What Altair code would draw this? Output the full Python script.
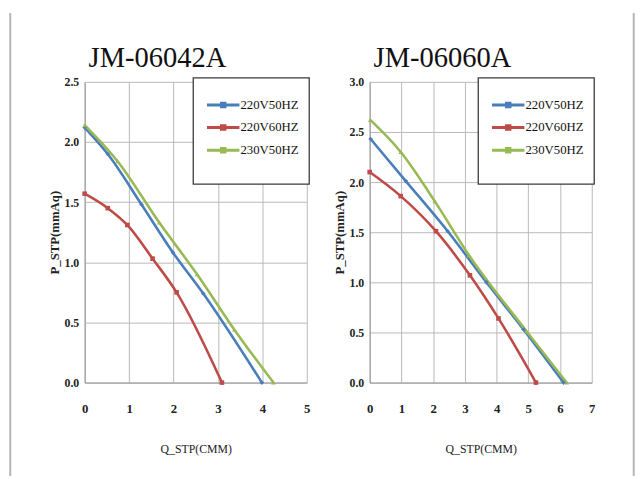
import altair as alt
import pandas as pd

SERIES = ["220V50HZ", "220V60HZ", "230V50HZ"]
COLORS = ["#4a7ebb", "#be4b48", "#98b954"]
SHAPES = ["diamond", "square", "triangle-up"]

# JM-06042A
a_q_220_50 = [0.0, 0.52, 1.28, 1.99, 2.67, 3.99]
a_p_220_50 = [2.12, 1.90, 1.48, 1.08, 0.74, 0.0]
a_q_220_60 = [0.0, 0.52, 0.96, 1.53, 2.07, 3.09]
a_p_220_60 = [1.57, 1.45, 1.31, 1.03, 0.75, 0.0]
a_q_230_50 = [0.0, 0.74, 1.68, 2.53, 3.37, 4.25]
a_p_230_50 = [2.14, 1.84, 1.33, 0.90, 0.44, 0.0]

# JM-06060A
b_q_220_50 = [0.03, 1.14, 2.46, 3.68, 4.85, 6.11]
b_p_220_50 = [2.43, 2.01, 1.51, 1.00, 0.53, 0.0]
b_q_220_60 = [0.0, 0.98, 2.09, 3.16, 4.06, 5.24]
b_p_220_60 = [2.10, 1.86, 1.51, 1.07, 0.64, 0.0]
b_q_230_50 = [0.02, 0.98, 2.05, 3.13, 4.95, 6.21]
b_p_230_50 = [2.62, 2.30, 1.81, 1.27, 0.51, 0.0]

a_xticks = [0, 1, 2, 3, 4, 5]
a_yticks = [0.0, 0.5, 1.0, 1.5, 2.0, 2.5]
b_xticks = [0, 1, 2, 3, 4, 5, 6, 7]
b_yticks = [0.0, 0.5, 1.0, 1.5, 2.0, 2.5, 3.0]

TITLES = ["JM-06042A", "JM-06060A"]

SERIF = "Liberation Serif"
W, H = 226, 306
LEGEND_SYMBOL = "M-1.65,0H1.65M-0.18,-0.18H0.18V0.18H-0.18Z"


def frame(qs, ps):
    rows = []
    for name, q, p in zip(SERIES, qs, ps):
        for i, (qq, pp) in enumerate(zip(q, p)):
            rows.append({"series": name, "q": qq, "p": pp, "i": i})
    return pd.DataFrame(rows)


def panel(df, title, xticks, yticks, frame_x):
    xs = alt.Scale(domain=[xticks[0], xticks[-1]], nice=False)
    ys = alt.Scale(domain=[yticks[0], yticks[-1]], nice=False)
    xaxis = alt.Axis(values=xticks, format="d", title="Q_STP(CMM)",
                     grid=True, gridColor="#b9b9b9", domainColor="#959595",
                     tickSize=0, labelOverlap=False, labelFlush=False,
                     labelFont=SERIF, labelFontWeight="bold",
                     labelFontSize=13, labelColor="#222", labelPadding=20,
                     titleFont=SERIF, titleFontWeight="normal", titleFontSize=12,
                     titleColor="#222", titlePadding=29)
    yaxis = alt.Axis(values=yticks, format=".1f", title="P_STP(mmAq)",
                     grid=True, gridColor="#b9b9b9", domainColor="#959595",
                     tickSize=0, labelOverlap=False, labelFlush=False,
                     labelFont=SERIF, labelFontWeight="bold",
                     labelFontSize=12, labelColor="#222", labelPadding=6,
                     titleFont=SERIF, titleFontWeight="bold", titleFontSize=13,
                     titleColor="#222", titlePadding=3)
    color_scale = alt.Scale(domain=SERIES, range=COLORS)
    line = alt.Chart(df).mark_line(interpolate="monotone", strokeWidth=2.6).encode(
        x=alt.X("q:Q", scale=xs, axis=xaxis),
        y=alt.Y("p:Q", scale=ys, axis=yaxis),
        color=alt.Color("series:N", scale=color_scale, legend=alt.Legend(
            orient="none", legendX=129.5, legendY=12, title=None,
            symbolType=LEGEND_SYMBOL, symbolStrokeWidth=3, symbolSize=400,
            labelFont=SERIF, labelFontSize=13, labelColor="#111",
            labelOffset=6, rowPadding=3)),
        order="i:Q",
    )
    pts = alt.Chart(df).mark_point(filled=True, size=22, opacity=1).encode(
        x=alt.X("q:Q", scale=xs, axis=xaxis),
        y=alt.Y("p:Q", scale=ys, axis=yaxis),
        color=alt.Color("series:N", scale=color_scale, legend=None),
        shape=alt.Shape("series:N", scale=alt.Scale(domain=SERIES, range=SHAPES), legend=None),
    )
    one = pd.DataFrame({"label": [title]})
    head = alt.Chart(one).mark_text(
        font=SERIF, fontSize=29, color="#111", align="left", baseline="alphabetic"
    ).encode(text="label:N", x=alt.value(4), y=alt.value(-15))
    box = alt.Chart(one).mark_rect(
        fill="white", stroke="#3a3a3a", strokeWidth=1.3).encode(
        x=alt.value(110.5), x2=alt.value(228.5), y=alt.value(-4), y2=alt.value(104))
    edge = alt.Chart(one).mark_rule(
        color="#b5b5b5", strokeWidth=2).encode(
        x=alt.value(frame_x), y=alt.value(-70), y2=alt.value(401))
    return alt.layer(box, edge, line, pts, head).properties(
        width=W, height=H,
    ).resolve_scale(shape="independent")


left = panel(frame([a_q_220_50, a_q_220_60, a_q_230_50],
                   [a_p_220_50, a_p_220_60, a_p_230_50]),
             TITLES[0], a_xticks, a_yticks, -75.7)
right = panel(frame([b_q_220_50, b_q_220_60, b_q_230_50],
                    [b_p_220_50, b_p_220_60, b_p_230_50]),
              TITLES[1], b_xticks, b_yticks, 268.7)

chart = alt.hconcat(left, right, spacing=23).resolve_scale(
    x="independent", y="independent", color="independent", shape="independent"
).resolve_legend(color="independent").properties(
    padding={"left": 1, "top": 0, "right": 0, "bottom": 0},
    background="white",
).configure_view(stroke=None)

chart.save("out.html", embed_options={"renderer": "svg", "actions": False})
